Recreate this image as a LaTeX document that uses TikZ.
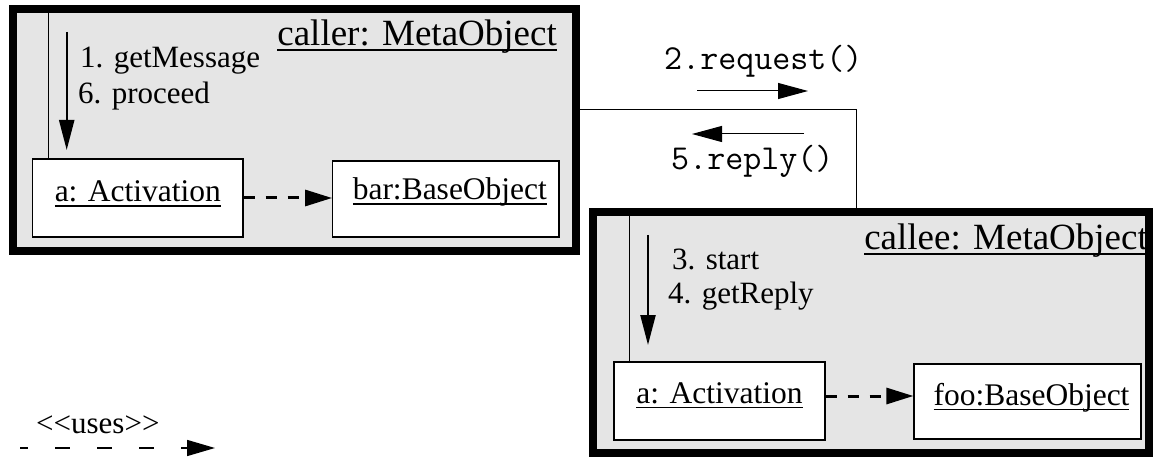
\documentclass[tikz,border=0pt]{standalone}
\usepackage{fontspec}
\setmainfont{Liberation Serif}
\usetikzlibrary{arrows.meta}
\newcommand\myul[1]{\setbox0\hbox{#1}\rlap{\rule[-4.8pt]{\wd0}{1.3pt}}\box0}
\tikzset{
  container/.style={draw, line width=8pt, fill=black!10, inner sep=0pt},
  objbox/.style={draw, line width=1.2pt, fill=white, inner sep=0pt},
  title/.style={inner sep=0pt, anchor=base east, font=\fontsize{37pt}{40pt}\selectfont},
  msg/.style={inner sep=0pt, anchor=base west, font=\fontsize{31pt}{34pt}\selectfont},
  monomsg/.style={inner sep=0pt, anchor=base west, font=\ttfamily\fontsize{35pt}{38pt}\selectfont},
  actfont/.style={font=\fontsize{31.5pt}{34pt}\selectfont},
  basefont/.style={font=\fontsize{31.5pt}{34pt}\selectfont},
  callarrow/.style={line width=2.3pt, -{Triangle[length=30pt,width=15pt]}},
  usesarrow/.style={line width=3pt, dash pattern=on 11pt off 11pt, -{Triangle[length=27pt,width=16pt]}},
  msgarrow/.style={line width=1pt, -{Triangle[length=30pt,width=16pt]}},
  lifeline/.style={line width=1pt},
}
\begin{document}
\begin{tikzpicture}[x=1pt,y=-1pt]
\useasboundingbox (0,0) rectangle (1160,457);

% containers
\node[container, minimum width=563.5pt, minimum height=242pt] (caller) at (294.25,130) {};
\node[container, minimum width=556pt, minimum height=241pt] (callee) at (871,332.5) {};

% titles
\node[title] (callerT) at (557,46) {\myul{caller: MetaObject}};
\node[title] (calleeT) at (1148,250) {\myul{callee: MetaObject}};

% caller inner boxes
\node[objbox, actfont, minimum width=210.3pt, text height=43pt, text depth=35pt] (actA) at (137.85,198) {\myul{a: Activation}};
\node[objbox, basefont, minimum width=226.3pt, text height=39pt, text depth=37pt] (bar) at (445.85,199) {\hspace*{8pt}\myul{bar:BaseObject}};

% callee inner boxes
\node[objbox, actfont, minimum width=211pt, text height=41pt, text depth=37pt] (actB) at (719.5,401) {\myul{a: Activation}};
\node[objbox, basefont, minimum width=227pt, text height=41pt, text depth=34pt] (foo) at (1027.5,401.5) {\hspace*{8pt}\myul{foo:BaseObject}};

% lifelines
\coordinate (ll1) at (48.3,13);
\draw[lifeline] (ll1) -- (ll1 |- actA.north);
\coordinate (ll2) at (629,216);
\draw[lifeline] (ll2) -- (ll2 |- actB.north);

% call arrows
\coordinate (ca1) at (66.7,32);
\coordinate (ca1e) at (66.7,150);
\draw[callarrow] (ca1) -- (ca1e);
\coordinate (ca2) at (648,235);
\coordinate (ca2e) at (648,345);
\draw[callarrow] (ca2) -- (ca2e);

% labels
\node[msg] (m1) at (80,68) {1. getMessage};
\node[msg] (m6) at (78,104) {6. proceed};
\node[msg] (m3) at (672,270) {3. start};
\node[msg] (m4) at (668,303) {4. getReply};

% uses arrows
\draw[usesarrow] (actA.east |- 0,198) -- (bar.west |- 0,198);
\draw[usesarrow] (actB.east |- 0,396) -- (foo.west |- 0,396);

% link between meta objects
\coordinate (corner) at (856.7,110);
\draw[line width=1pt] (caller.east |- corner) -- (corner) -- (corner |- callee.north);

% messages
\node[monomsg] (m2) at (664,70) {2.request()};
\coordinate (r1) at (697,91);
\coordinate (r2) at (808,91);
\draw[msgarrow] (r1) -- (r2);
\coordinate (p1) at (804,134);
\coordinate (p2) at (692,134);
\draw[msgarrow] (p1) -- (p2);
\node[monomsg] (m5) at (671,170) {5.reply()};

% legend
\node[msg] (uses) at (36,433) {<{}<uses>{}>};
\coordinate (lg1) at (20,448);
\coordinate (lg2) at (215,448);
\draw[line width=1.5pt, dash pattern=on 15pt off 27pt, dash phase=7pt, -{Triangle[length=28pt,width=16pt]}] (lg1) -- (lg2);
\end{tikzpicture}
\end{document}
